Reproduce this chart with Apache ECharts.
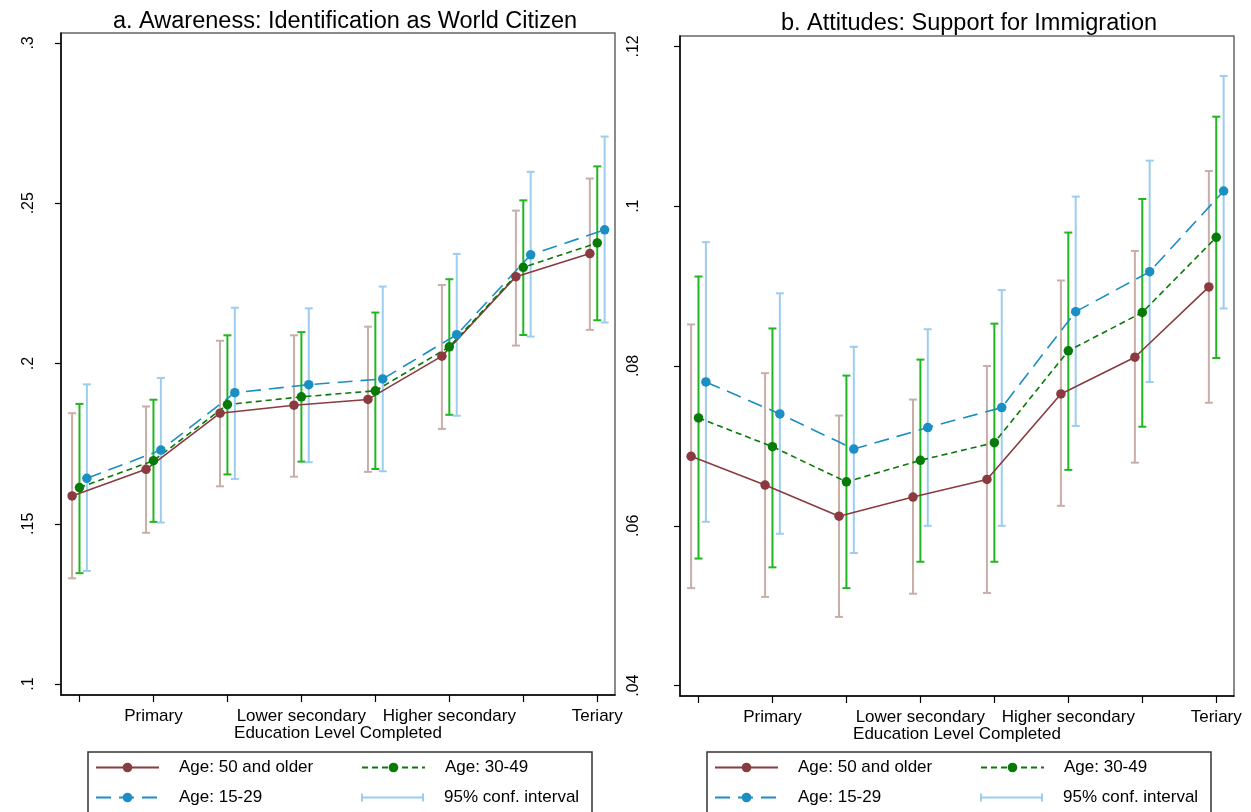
<!DOCTYPE html>
<html>
<head>
<meta charset="utf-8">
<script src="https://cdn.jsdelivr.net/npm/echarts@6/dist/echarts.min.js"></script>
<style>
  html, body { margin: 0; padding: 0; background: #fff; }
  #chart { width: 1251px; height: 812px; }
</style>
</head>
<body>
<div id="chart"></div>
<script>
// education levels (x positions) and the labels shown under every 2nd tick
const educLevels = [1, 2, 3, 4, 5, 6, 7, 8];
const educLabels = { 2: 'Primary', 4: 'Lower secondary', 6: 'Higher secondary', 8: 'Teriary' };
const groupNames = ['Age: 50 and older', 'Age: 30-49', 'Age: 15-29'];
const ciName = '95% conf. interval';
const awareTicks = [0.1, 0.15, 0.2, 0.25, 0.3];
const supportTicks = [0.04, 0.06, 0.08, 0.1, 0.12];

// a. Awareness: Identification as World Citizen
const awareOld = [0.1587, 0.1670, 0.1845, 0.1870, 0.1888, 0.2023, 0.2271, 0.2343];
const awareOldLo = [0.1330, 0.1472, 0.1617, 0.1647, 0.1662, 0.1796, 0.2056, 0.2105];
const awareOldHi = [0.1845, 0.1866, 0.2071, 0.2088, 0.2115, 0.2245, 0.2477, 0.2577];
const awareMid = [0.1613, 0.1697, 0.1872, 0.1896, 0.1915, 0.2052, 0.2300, 0.2376];
const awareMidLo = [0.1346, 0.1506, 0.1654, 0.1694, 0.1671, 0.1840, 0.2089, 0.2135];
const awareMidHi = [0.1874, 0.1887, 0.2088, 0.2098, 0.2159, 0.2263, 0.2509, 0.2615];
const awareYoung = [0.1642, 0.1730, 0.1909, 0.1934, 0.1952, 0.2090, 0.2339, 0.2417];
const awareYoungLo = [0.1353, 0.1504, 0.1640, 0.1692, 0.1664, 0.1837, 0.2084, 0.2128];
const awareYoungHi = [0.1935, 0.1955, 0.2174, 0.2172, 0.2240, 0.2342, 0.2598, 0.2708];

// b. Attitudes: Support for Immigration
const suppOld = [0.0687, 0.0651, 0.0612, 0.0636, 0.0658, 0.0765, 0.0811, 0.0899];
const suppOldLo = [0.0522, 0.0511, 0.0486, 0.0515, 0.0516, 0.0625, 0.0679, 0.0754];
const suppOldHi = [0.0852, 0.0791, 0.0738, 0.0758, 0.0800, 0.0907, 0.0944, 0.1044];
const suppMid = [0.0735, 0.0699, 0.0655, 0.0682, 0.0704, 0.0819, 0.0867, 0.0961];
const suppMidLo = [0.0559, 0.0548, 0.0522, 0.0555, 0.0555, 0.0670, 0.0724, 0.0810];
const suppMidHi = [0.0912, 0.0847, 0.0788, 0.0808, 0.0853, 0.0967, 0.1009, 0.1112];
const suppYoung = [0.0780, 0.0740, 0.0696, 0.0723, 0.0748, 0.0868, 0.0918, 0.1019];
const suppYoungLo = [0.0605, 0.0590, 0.0566, 0.0600, 0.0600, 0.0725, 0.0780, 0.0872];
const suppYoungHi = [0.0955, 0.0891, 0.0824, 0.0846, 0.0895, 0.1012, 0.1057, 0.1163];

const font = '"Liberation Sans", Arial, sans-serif';
const dodge = [-0.1, 0, 0.1];
const lineColors = ['#8b3a3f', '#077a07', '#1b8ec4'];
const ciColors = ['#c9aea8', '#22b522', '#9ccdef'];
const dashes = ['solid', [6, 4], [15, 8]];

function pointSeries(panel, g, vals) {
  return {
    type: 'line',
    name: groupNames[g],
    xAxisIndex: panel,
    yAxisIndex: panel,
    data: vals.map((v, i) => [educLevels[i] + dodge[g], v]),
    symbol: 'circle',
    symbolSize: 9.5,
    lineStyle: { color: lineColors[g], width: 1.6, type: dashes[g] },
    itemStyle: { color: lineColors[g] },
    z: 3
  };
}

function ciSeries(panel, g, lo, hi) {
  return {
    type: 'custom',
    // only the light blue one is named for the legend
    name: g === 2 ? ciName : 'ci' + panel + g,
    xAxisIndex: panel,
    yAxisIndex: panel,
    data: lo.map((l, i) => [educLevels[i] + dodge[g], l, hi[i]]),
    encode: { x: 0, y: [1, 2] },
    itemStyle: { color: ciColors[g] },
    z: 2,
    renderItem(params, api) {
      const lowPt = api.coord([api.value(0), api.value(1)]);
      const highPt = api.coord([api.value(0), api.value(2)]);
      const x = lowPt[0];
      const hw = 4;
      const style = { stroke: ciColors[g], lineWidth: 2, fill: null };
      return {
        type: 'group',
        children: [
          { type: 'line', shape: { x1: x, y1: highPt[1], x2: x, y2: lowPt[1] }, style },
          { type: 'line', shape: { x1: x - hw, y1: highPt[1], x2: x + hw, y2: highPt[1] }, style },
          { type: 'line', shape: { x1: x - hw, y1: lowPt[1], x2: x + hw, y2: lowPt[1] }, style }
        ]
      };
    }
  };
}

function xAxis(panel) {
  return {
    type: 'value',
    gridIndex: panel,
    min: 0.75,
    max: 8.24,
    splitLine: { show: false },
    axisLine: { lineStyle: { color: '#000', width: 1.5 } },
    axisTick: { customValues: educLevels, length: 7, lineStyle: { color: '#000', width: 1.2 } },
    axisLabel: {
      customValues: [2, 4, 6, 8],
      formatter: v => educLabels[Math.round(v)] || '',
      margin: 13,
      fontSize: 17,
      fontFamily: font,
      color: '#000'
    },
    name: 'Education Level Completed',
    nameLocation: 'middle',
    nameGap: 30,
    nameMoveOverlap: false,
    nameTextStyle: { fontSize: 17, fontFamily: font, color: '#000' }
  };
}

function yAxis(panel, ticks, min, max, margin) {
  return {
    type: 'value',
    gridIndex: panel,
    min, max,
    splitLine: { show: false },
    axisLine: { show: true, lineStyle: { color: '#000', width: 1.5 } },
    axisTick: { show: true, customValues: ticks, length: 6, lineStyle: { color: '#000', width: 1.2 } },
    axisLabel: {
      customValues: ticks,
      formatter: v => String(v).replace(/^0\./, '.'),
      rotate: 90,
      margin,
      fontSize: 16,
      fontFamily: font,
      color: '#000'
    }
  };
}

// left-column names get a wider text box so the second column lines up
const leftColumn = [groupNames[0], groupNames[2]];

function legend(left) {
  const token = w => ({
    fontSize: 17, fontFamily: font, color: '#000',
    width: w, padding: [0, 0, 0, 15], backgroundColor: 'rgba(255,255,255,0)'
  });
  return {
    left, top: 752,
    orient: 'horizontal',
    width: 505,
    padding: [7, 7, 8, 7],
    itemGap: 13,
    itemWidth: 63,
    itemHeight: 12,
    borderColor: '#333',
    borderWidth: 1.5,
    selectedMode: false,
    formatter: name => (leftColumn.includes(name) ? '{c1|' : '{c2|') + name + '}',
    textStyle: {
      fontSize: 17, fontFamily: font, color: '#000',
      rich: { c1: token(169), c2: token(140) }
    },
    data: [
      { name: groupNames[0] },
      { name: groupNames[1] },
      { name: groupNames[2] },
      {
        name: ciName,
        icon: 'path://M0,0h2v8h-2zM0,3h63v2h-63zM61,0h2v8h-2z',
        itemStyle: { color: ciColors[2] }
      }
    ]
  };
}

const chart = echarts.init(document.getElementById('chart'));
chart.setOption({
  animation: false,
  backgroundColor: '#fff',
  title: [
    { text: 'a. Awareness: Identification as World Citizen', left: 340, top: 5, textAlign: 'center',
      textStyle: { fontSize: 23.5, fontWeight: 'normal', fontFamily: font, color: '#000' } },
    { text: 'b. Attitudes: Support for Immigration', left: 964, top: 7, textAlign: 'center',
      textStyle: { fontSize: 23.5, fontWeight: 'normal', fontFamily: font, color: '#000' } }
  ],
  grid: [
    { left: 61, top: 33, width: 554, height: 662, show: true, borderColor: '#666', borderWidth: 1.5 },
    { left: 680, top: 36, width: 554, height: 660, show: true, borderColor: '#666', borderWidth: 1.5 }
  ],
  xAxis: [xAxis(0), xAxis(1)],
  yAxis: [
    yAxis(0, awareTicks, 0.0966, 0.3031, 24),
    yAxis(1, supportTicks, 0.0387, 0.1213, 38)
  ],
  legend: [legend(88), legend(707)],
  series: [
    ciSeries(0, 0, awareOldLo, awareOldHi),
    ciSeries(0, 1, awareMidLo, awareMidHi),
    ciSeries(0, 2, awareYoungLo, awareYoungHi),
    pointSeries(0, 0, awareOld),
    pointSeries(0, 1, awareMid),
    pointSeries(0, 2, awareYoung),
    ciSeries(1, 0, suppOldLo, suppOldHi),
    ciSeries(1, 1, suppMidLo, suppMidHi),
    ciSeries(1, 2, suppYoungLo, suppYoungHi),
    pointSeries(1, 0, suppOld),
    pointSeries(1, 1, suppMid),
    pointSeries(1, 2, suppYoung)
  ]
});
</script>
</body>
</html>
